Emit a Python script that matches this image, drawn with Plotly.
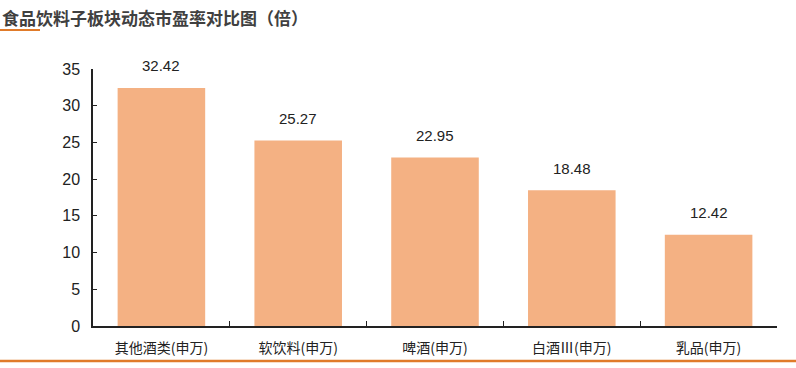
import plotly.graph_objects as go

categories = ["其他酒类(申万)", "软饮料(申万)", "啤酒(申万)", "白酒Ⅲ(申万)", "乳品(申万)"]
values = [32.42, 25.27, 22.95, 18.48, 12.42]
y_ticks = [0, 5, 10, 15, 20, 25, 30, 35]
title_text = "食品饮料子板块动态市盈率对比图（倍）"

FONT = "Liberation Sans, Arial, Noto Sans CJK SC, sans-serif"
L, R, T, B = 93, 19, 69, 42
W, H = 796, 368
pw, ph = W - L - R, H - T - B

def px(x):
    return (x - L) / pw

def py(y):
    return (H - B - y) / ph

fig = go.Figure(go.Bar(
    x=categories, y=values,
    marker=dict(color="#F4B183", line=dict(width=0)),
))

label_annots = [
    dict(x=c, y=v, xref="x", yref="y", text=f"{v:.2f}", showarrow=False,
         yanchor="middle", yshift=22,
         font=dict(size=15, color="#222222", family=FONT))
    for c, v in zip(categories, values)
]

fig.update_layout(
    width=W, height=H,
    margin=dict(l=L, r=R, t=T, b=B),
    paper_bgcolor="white", plot_bgcolor="white",
    bargap=0.36,
    showlegend=False,
    font=dict(family=FONT, color="#222222"),
    xaxis=dict(
        showline=True, linecolor="#222222", linewidth=1.5,
        ticks="inside", tickson="boundaries", ticklen=5, tickcolor="#222222",
        tickfont=dict(size=14, color="#222222", family="Noto Sans CJK SC, sans-serif"),
        ticklabelstandoff=8,
        showgrid=False,
    ),
    yaxis=dict(
        range=[0, 35], tickvals=y_ticks,
        showline=True, linecolor="#222222", linewidth=1.5,
        ticks="inside", ticklen=4, tickcolor="#222222",
        tickfont=dict(size=16, color="#222222", family=FONT),
        ticklabelstandoff=8,
        showgrid=False, zeroline=False,
    ),
    shapes=[
        dict(type="line", xref="paper", yref="paper",
             x0=px(0), x1=px(W), y0=py(361), y1=py(361),
             line=dict(color="#E07B2A", width=2.5)),
        dict(type="line", xref="paper", yref="paper",
             x0=px(0), x1=px(40), y0=py(30), y1=py(30),
             line=dict(color="#E07B2A", width=2)),
    ],
    annotations=label_annots + [
        dict(text="<b>" + title_text + "</b>", xref="paper", yref="paper",
             x=px(0), y=py(17), xanchor="left", yanchor="middle", showarrow=False,
             font=dict(size=17, color="#404040", family="Noto Sans CJK SC, sans-serif")),
    ],
)

fig.write_html("out.html")
